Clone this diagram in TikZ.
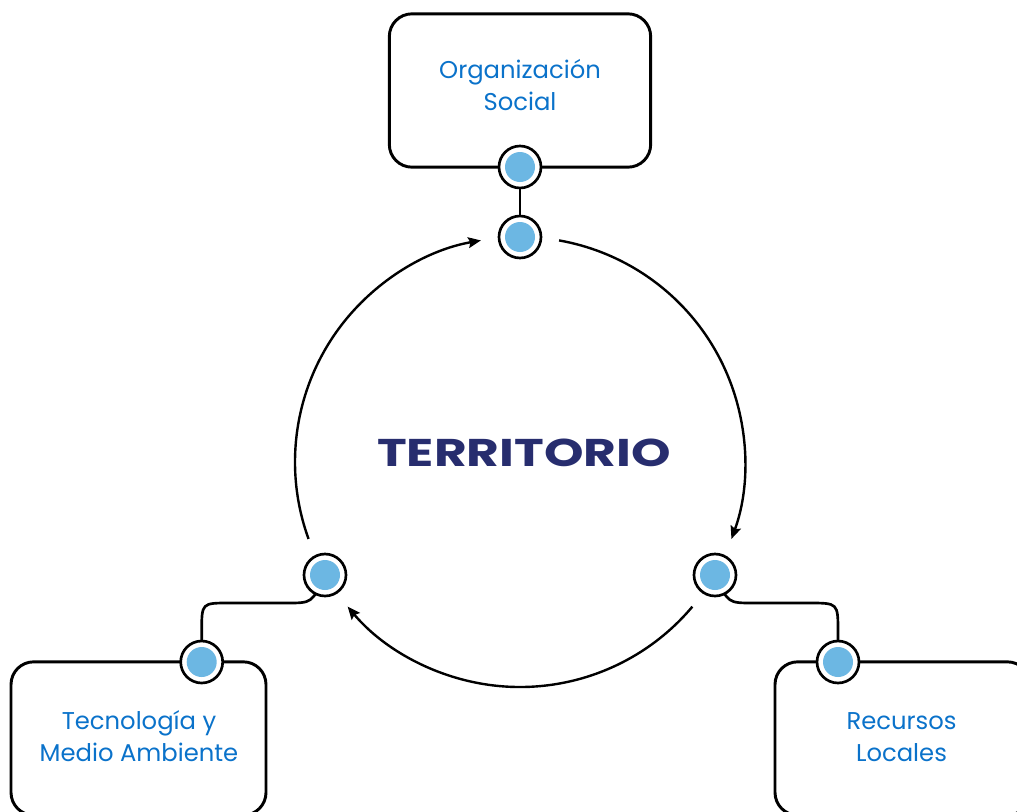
\documentclass[tikz,border=0pt]{standalone}
\usepackage{fontspec}
\setmainfont{Poppins}
\usetikzlibrary{arrows.meta,backgrounds,calc}
\definecolor{lblblue}{HTML}{0A72CA}
\definecolor{dotblue}{HTML}{6CB7E3}
\definecolor{navy}{HTML}{272D6E}
\tikzset{
  box/.style={draw=black,line width=2.2pt,rounded corners=17pt,minimum width=196pt,minimum height=115pt,inner sep=0pt},
  dotnode/.style={circle,draw=black,line width=2pt,fill=white,minimum size=31.5pt,inner sep=0pt,
    path picture={\fill[dotblue] (path picture bounding box.center) circle (11.25pt);}},
  lbl/.style={text=lblblue,font=\fontsize{18.2}{24}\selectfont,align=center,inner sep=0pt},
  conn/.style={draw=black,line width=2pt},
  arcline/.style={draw=black,line width=1.8pt,-{Stealth[length=9.5pt,width=8pt,inset=1.5pt]}},
}
\begin{document}
\begin{tikzpicture}[x=0.75pt,y=0.75pt]
\useasboundingbox (0,0) rectangle (1017,-811);
\clip (0,0) rectangle (1017,-811);
\coordinate (C) at (520,-462);
% boxes
\node[box] (boxtop) at (520,-90.5) {};
\node[box,minimum width=191.25pt] (boxleft) at (138.5,-738.5) {};
\node[box,minimum width=191.25pt] (boxright) at (902.5,-738.5) {};
% labels (anchor=base is the last line's baseline)
\node[lbl,anchor=base] (ltop) at (520,-110) {Organización\\Social};
\node[lbl,anchor=base] (lleft) at (139,-761) {Tecnología y\\Medio Ambiente};
\node[lbl,anchor=base] (lright) at (901.5,-761) {Recursos\\Locales};
% centre text
\node[text=navy,font=\fontsize{29}{32}\bfseries\selectfont,inner sep=0pt,anchor=base] (terr) at (524,-466) {\scalebox{1.3}[1]{TERRITORIO}};
% dots
\node[dotnode] (d1) at (520,-167) {};
\node[dotnode] (d2) at (520,-237) {};
\node[dotnode] (d3) at (325,-575) {};
\node[dotnode] (d4) at (201.7,-662) {};
\node[dotnode] (d5) at (715,-575) {};
\node[dotnode] (d6) at (838,-662) {};
\begin{scope}[on background layer]
\draw[conn] (d1.center) -- (d2.center);
\draw[conn] (d3.center) .. controls (312,-603) .. (287,-603) -- (229,-603) .. controls (201.7,-603) .. (201.7,-631) -- (d4.center);
\draw[conn] (d5.center) .. controls (728,-603) .. (753,-603) -- (809,-603) .. controls (838,-603) .. (838,-632) -- (d6.center);
\end{scope}
% arcs
\draw[arcline] ($(C)+(80:225)$) arc[start angle=80,end angle=-20,radius=225];
\draw[arcline] ($(C)+(-40:225)$) arc[start angle=-40,end angle=-140,radius=225];
\draw[arcline] ($(C)+(200:225)$) arc[start angle=200,end angle=100,radius=225];
\end{tikzpicture}
\end{document}
